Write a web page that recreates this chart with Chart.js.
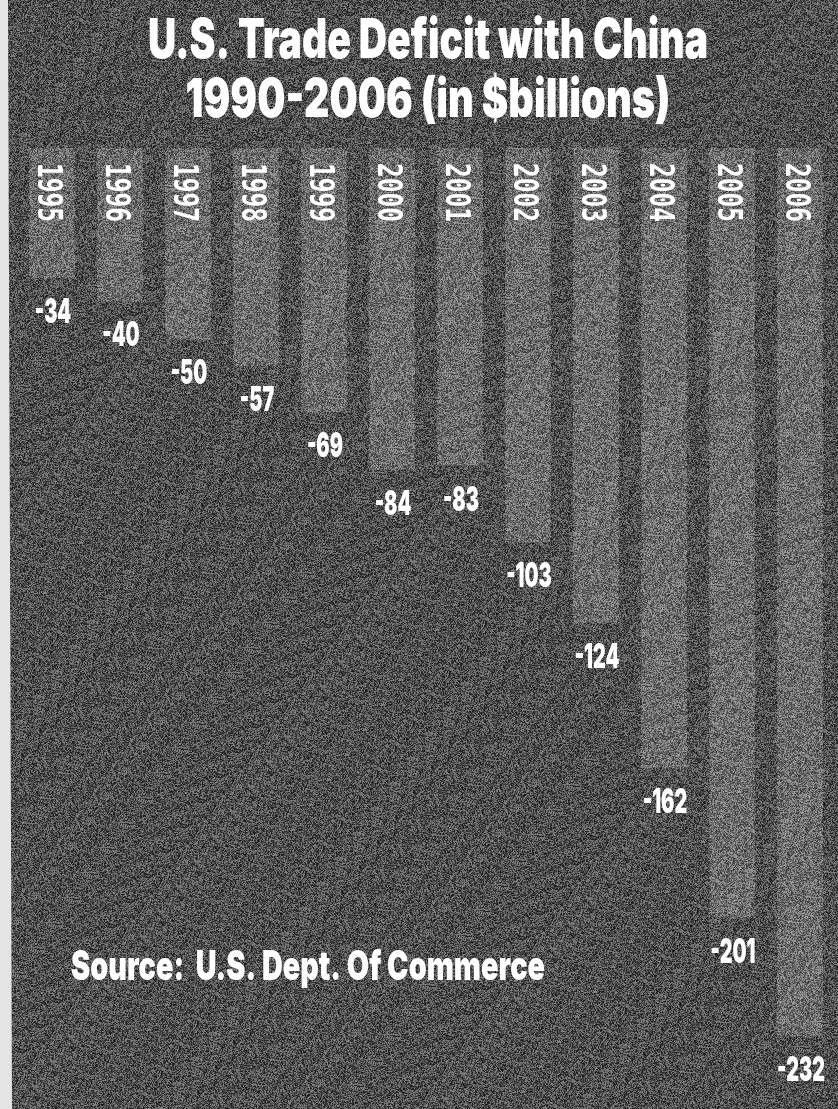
<!DOCTYPE html>
<html>
<head>
<meta charset="utf-8">
<script src="https://cdn.jsdelivr.net/npm/chart.js@4.4.0/dist/chart.umd.min.js"></script>
<style>
  html, body { margin: 0; padding: 0; background: #4b4b4b; }
  #wrap { width: 838px; height: 1109px; }
</style>
</head>
<body>
<div id="wrap"><canvas id="tradeChart" width="838" height="1109"></canvas></div>
<script>
const years = ["1995", "1996", "1997", "1998", "1999", "2000", "2001", "2002", "2003", "2004", "2005", "2006"];
const deficits = [-34, -40, -50, -57, -69, -84, -83, -103, -124, -162, -201, -232];
const titleLines = ["U.S. Trade Deficit with China", "1990-2006 (in $billions)"];
const sourceText = "Source:  U.S. Dept. Of Commerce";

const HEAVY = "'Inter', 'Roboto', 'DejaVu Sans', sans-serif";
const YEARFONT = "bold 34px 'DejaVu Sans Mono', 'Liberation Mono', monospace";

// grainy texture, seeded so every render looks the same
function makeGrain(w, h) {
  const c = document.createElement("canvas");
  c.width = w; c.height = h;
  const g = c.getContext("2d");
  const img = g.createImageData(w, h);
  let s = 1234567;
  for (let i = 0; i < img.data.length; i += 4) {
    s = (s * 1103515245 + 12345) & 0x7fffffff;
    const v = (s >> 8) & 255;
    img.data[i] = v; img.data[i + 1] = v; img.data[i + 2] = v;
    img.data[i + 3] = 115;
  }
  g.putImageData(img, 0, 0);
  return c;
}
const grain = makeGrain(838, 1109);

// draw text squeezed horizontally so it spans `width`
function fitText(ctx, text, cx, baseline, size, width) {
  ctx.font = `900 ${size}px ${HEAVY}`;
  const w = ctx.measureText(text).width;
  ctx.save();
  ctx.translate(cx, baseline);
  ctx.scale(width / w, 1);
  ctx.textAlign = "center";
  ctx.textBaseline = "alphabetic";
  ctx.fillText(text, 0, 0);
  ctx.restore();
}

const backdrop = {
  id: "backdrop",
  beforeDraw(chart) {
    const ctx = chart.ctx;
    ctx.save();
    ctx.fillStyle = "#282828";
    ctx.fillRect(0, 0, chart.width, chart.height);
    ctx.restore();
  }
};

const labels = {
  id: "labels",
  afterDatasetsDraw(chart) {
    const ctx = chart.ctx;
    // grain over everything drawn so far
    ctx.drawImage(grain, 0, 0);

    // scanned paper edge on the left
    ctx.save();
    ctx.fillStyle = "#e4e4e4";
    ctx.beginPath();
    ctx.moveTo(0, 0); ctx.lineTo(8, 0); ctx.lineTo(12, chart.height); ctx.lineTo(0, chart.height);
    ctx.closePath();
    ctx.fill();
    ctx.restore();

    ctx.save();
    ctx.fillStyle = "#ffffff";
    fitText(ctx, titleLines[0], 428, 58, 55, 560);
    fitText(ctx, titleLines[1], 428, 117, 54, 485);
    fitText(ctx, sourceText, 308, 980, 41, 474);

    const bars = chart.getDatasetMeta(0).data;
    ctx.font = `900 34px ${HEAVY}`;
    const valScale = 48 / ctx.measureText("-232").width;
    bars.forEach((bar, i) => {
      // value under the bar end
      ctx.save();
      ctx.font = `900 34px ${HEAVY}`;
      ctx.translate(bar.x + 1, bar.y + 45);
      ctx.scale(valScale, 1);
      ctx.textAlign = "center";
      ctx.fillText(String(deficits[i]), 0, 0);
      ctx.restore();

      // year written downwards at the top of the bar
      ctx.save();
      ctx.font = YEARFONT;
      const yw = ctx.measureText(years[i]).width;
      ctx.translate(bar.x - 5, bar.base + 15);
      ctx.rotate(Math.PI / 2);
      ctx.scale(59 / yw, 1);
      ctx.textAlign = "left";
      ctx.textBaseline = "middle";
      ctx.fillText(years[i], 0, 0);
      ctx.restore();
    });
    ctx.restore();
  }
};

new Chart(document.getElementById("tradeChart"), {
  type: "bar",
  data: {
    labels: years,
    datasets: [{
      data: deficits,
      backgroundColor: "#5e5e5e",
      borderWidth: 0,
      barPercentage: 0.67,
      categoryPercentage: 1
    }]
  },
  options: {
    responsive: false,
    animation: false,
    devicePixelRatio: 1,
    layout: { padding: { top: 148, left: 18, right: 4, bottom: 0 } },
    plugins: {
      legend: { display: false },
      tooltip: { enabled: false }
    },
    scales: {
      x: { display: false, offset: true },
      y: { display: false, min: -251, max: 0 }
    }
  },
  plugins: [backdrop, labels]
});
</script>
</body>
</html>
